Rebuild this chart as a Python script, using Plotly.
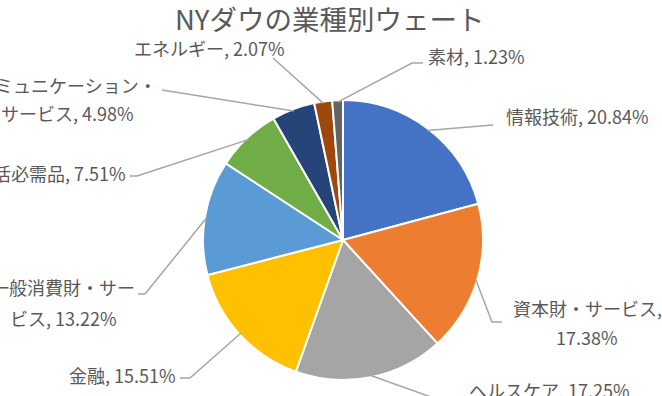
import math
import plotly.graph_objects as go

# ---- data ----
categories = ["情報技術", "資本財・サービス", "ヘルスケア", "金融", "一般消費財・サービス",
              "生活必需品", "コミュニケーション・サービス", "エネルギー", "素材"]
weights = [20.84, 17.38, 17.25, 15.51, 13.22, 7.51, 4.98, 2.07, 1.23]
colors = ["#4472C4", "#ED7D31", "#A5A5A5", "#FFC000", "#5B9BD5",
          "#70AD47", "#264478", "#9E480E", "#636363"]
title_text = "NYダウの業種別ウェート"

# ---- layout geometry (pixels) ----
W, H = 662, 396
CX, CY, R = 343, 240, 140
FONT = "Noto Sans CJK JP"
TXT = "#595959"
LINE = "#A6A6A6"
FS = 18

# per-slice label placement: break index, anchor, x, list of y, leader path points after the slice point
label_layout = [
    dict(brk=None, anchor="left", x=504, ys=[116], pts=[(493, 125)]),
    dict(brk=9, anchor="center", x=587, ys=[308, 337], pts=[(492, 322), (502, 322)]),
    dict(brk=None, anchor="left", x=467, ys=[390], pts=[(445, 402)]),
    dict(brk=None, anchor="right", x=178, ys=[375], pts=[(190, 378), (180, 378)]),
    dict(brk=8, anchor="center", x=63, ys=[287, 318], pts=[(145, 294), (138, 294)]),
    dict(brk=None, anchor="right", x=128, ys=[173], pts=[(137, 176), (130, 176)]),
    dict(brk=10, anchor="center", x=67, ys=[85, 113], pts=[(162, 90)]),
    dict(brk=None, anchor="left", x=132, ys=[48], pts=[(273, 58)]),
    dict(brk=None, anchor="left", x=426, ys=[56], pts=[(412, 63), (423, 63)]),
]


def px(x):
    return x / W


def py(y):
    return 1 - y / H


fig = go.Figure(go.Pie(
    labels=categories,
    values=weights,
    sort=False,
    direction="clockwise",
    rotation=0,
    marker=dict(colors=colors, line=dict(color="white", width=2)),
    textinfo="none",
    hoverinfo="label+percent",
    showlegend=False,
    domain=dict(x=[px(CX - R), px(CX + R)], y=[py(CY + R), py(CY - R)]),
))

total = sum(weights)
annotations = []
shapes = []
cum = 0.0
for cat, w, lay in zip(categories, weights, label_layout):
    mid = (cum + w / 2) / total * 2 * math.pi
    cum += w
    sx = CX + (R - 2) * math.sin(mid)
    sy = CY - (R - 2) * math.cos(mid)
    pts = [(sx, sy)] + lay["pts"]
    path = "M " + " L ".join(f"{px(x):.5f},{py(y):.5f}" for x, y in pts)
    shapes.append(dict(type="path", path=path, xref="paper", yref="paper",
                       line=dict(color=LINE, width=1.5)))
    text = f"{cat}, {w:.2f}%"
    if lay["brk"]:
        lines = [text[:lay["brk"]], text[lay["brk"]:].strip()]
    else:
        lines = [text]
    for line, y in zip(lines, lay["ys"]):
        annotations.append(dict(text=line, x=px(lay["x"]), y=py(y), xref="paper", yref="paper",
                                xanchor=lay["anchor"], yanchor="middle", showarrow=False,
                                font=dict(family=FONT, size=FS, color=TXT)))

fig.update_layout(
    width=W, height=H,
    margin=dict(l=0, r=0, t=0, b=0),
    paper_bgcolor="white",
    plot_bgcolor="white",
    title=dict(text=title_text, x=0.498, xanchor="center", y=py(20.5), yanchor="middle",
               font=dict(family=FONT, size=27.5, color=TXT)),
    annotations=annotations,
    shapes=shapes,
)

fig.write_html("out.html", config={"displayModeBar": False},
               post_script="document.body.style.margin='0';document.body.style.overflow='hidden';")
